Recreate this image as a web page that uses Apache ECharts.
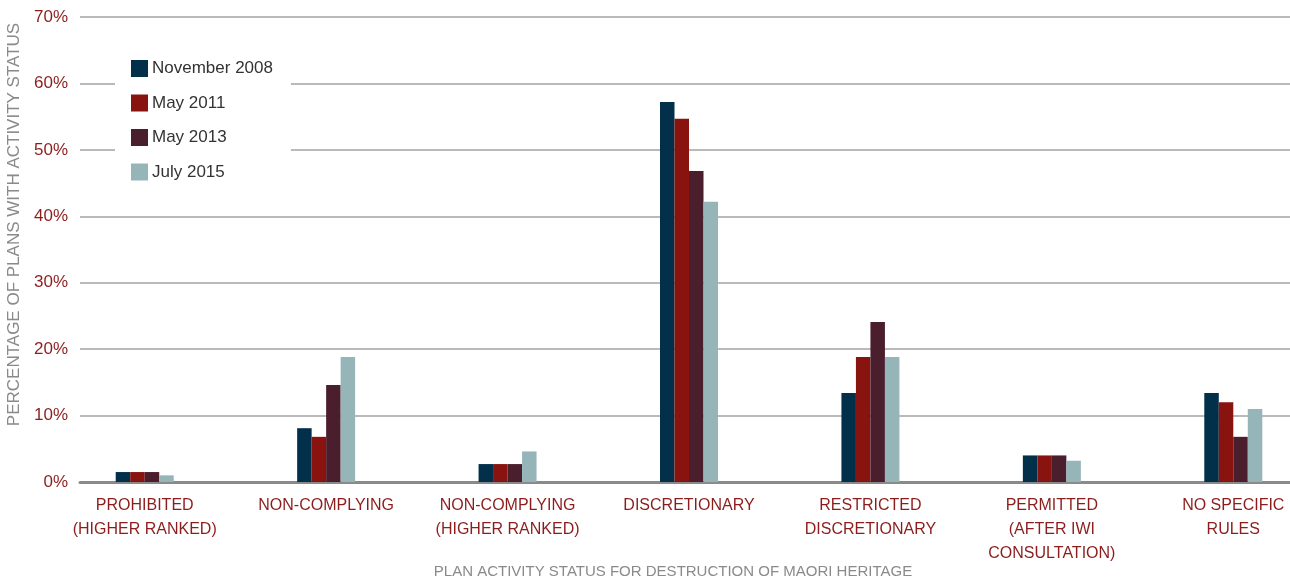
<!DOCTYPE html>
<html>
<head>
<meta charset="utf-8">
<script src="https://cdn.jsdelivr.net/npm/echarts@6/dist/echarts.min.js"></script>
<style>
  html, body { margin: 0; padding: 0; background: #fff; }
  #chart { width: 1290px; height: 583px; }
</style>
</head>
<body>
<div id="chart"></div>
<script>
// categories on the x axis
var categories = [
  "PROHIBITED\n(HIGHER RANKED)",
  "NON-COMPLYING",
  "NON-COMPLYING\n(HIGHER RANKED)",
  "DISCRETIONARY",
  "RESTRICTED\nDISCRETIONARY",
  "PERMITTED\n(AFTER IWI\nCONSULTATION)",
  "NO SPECIFIC\nRULES"
];
var seriesNames = ["November 2008", "May 2011", "May 2013", "July 2015"];
// percentages
var nov2008 = [1.5, 8.1, 2.7, 57.2, 13.4, 4.0, 13.4];
var may2011 = [1.5, 6.8, 2.7, 54.7, 18.8, 4.0, 12.0];
var may2013 = [1.5, 14.6, 2.7, 46.8, 24.1, 4.0, 6.8];
var jul2015 = [1.0, 18.8, 4.6, 42.2, 18.8, 3.2, 11.0];
var yTicks = [0, 10, 20, 30, 40, 50, 60, 70];

var colors = ["#02304b", "#88130f", "#4a1e2d", "#95b5b9"];
var red = "#8c1d1d";
var font = "Liberation Sans";

var chart = echarts.init(document.getElementById("chart"));
var allData = [nov2008, may2011, may2013, jul2015];

var series = seriesNames.map(function (name, i) {
  return {
    name: name,
    type: "bar",
    xAxisIndex: 1,
    yAxisIndex: 1,
    data: allData[i],
    barWidth: 14.5,
    barGap: "0%",
    itemStyle: { color: colors[i] },
    z: 3
  };
});

chart.setOption({
  animation: false,
  color: colors,
  textStyle: { fontFamily: font },
  grid: [
    // grid for gridlines and y labels
    { left: 80, right: 0, top: 17, bottom: 101, outerBoundsMode: "none" },
    // grid for the bars (plot runs slightly past the canvas on the right)
    { left: 54, width: 1270, top: 17, bottom: 101, outerBoundsMode: "none" }
  ],
  legend: {
    data: seriesNames,
    orient: "vertical",
    left: 115,
    top: 50,
    padding: [10, 18, 10, 16],
    backgroundColor: "#fff",
    itemWidth: 17,
    itemHeight: 17,
    itemGap: 17.5,
    icon: "rect",
    textStyle: { color: "#333", fontSize: 17, fontFamily: font, padding: [3, 0, 0, -1] },
    z: 10
  },
  xAxis: [
    {
      gridIndex: 0,
      type: "category",
      data: categories,
      axisLine: { show: true, lineStyle: { color: "#8a8a8a", width: 3 } },
      axisTick: { show: false },
      axisLabel: { show: false }
    },
    {
      gridIndex: 1,
      type: "category",
      data: categories,
      axisLine: { show: false },
      axisTick: { show: false },
      axisLabel: {
        color: red,
        fontSize: 16,
        lineHeight: 24,
        margin: 12,
        interval: 0,
        fontFamily: font
      },
      name: "PLAN ACTIVITY STATUS FOR DESTRUCTION OF MAORI HERITAGE",
      nameLocation: "middle",
      nameGap: 82,
      nameMoveOverlap: false,
      nameTextStyle: { color: "#8a8a8a", fontSize: 15, fontFamily: font, padding: [0, 32, 0, 0] }
    }
  ],
  yAxis: [
    {
      gridIndex: 0,
      type: "value",
      min: yTicks[0],
      max: yTicks[yTicks.length - 1],
      interval: 10,
      axisLine: { show: false },
      axisTick: { show: false },
      splitLine: { show: true, lineStyle: { color: "#a3a3a3", width: 1.5 } },
      axisLabel: {
        color: red,
        fontSize: 17,
        margin: 12,
        fontFamily: font,
        formatter: "{value}%"
      },
      name: "PERCENTAGE OF PLANS WITH ACTIVITY STATUS",
      nameLocation: "middle",
      nameGap: 57,
      nameMoveOverlap: false,
      nameTextStyle: { color: "#8a8a8a", fontSize: 17, fontFamily: font, padding: [0, 0, 0, 50] }
    },
    {
      gridIndex: 1,
      type: "value",
      min: yTicks[0],
      max: yTicks[yTicks.length - 1],
      interval: 10,
      show: false,
      splitLine: { show: false }
    }
  ],
  series: series
});
</script>
</body>
</html>
